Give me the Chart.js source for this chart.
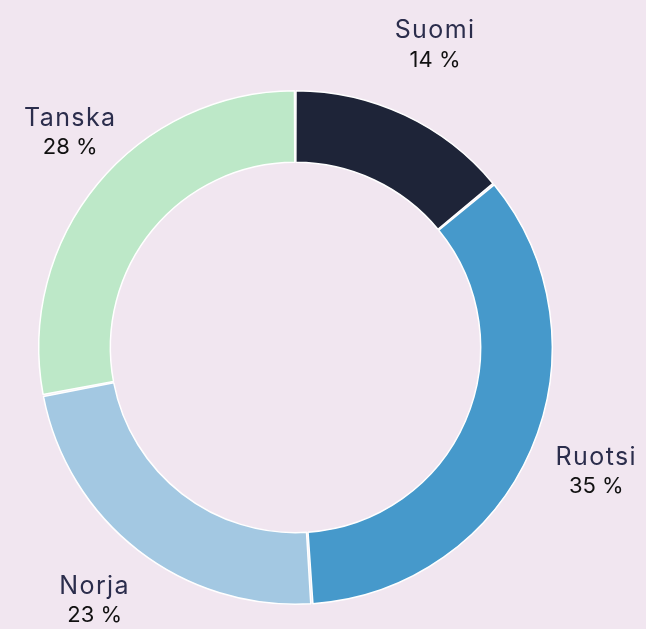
<!DOCTYPE html>
<html>
<head>
<meta charset="utf-8">
<script src="https://cdn.jsdelivr.net/npm/chart.js@4.4.1/dist/chart.umd.min.js"></script>
<style>
  html, body { margin: 0; padding: 0; background: #f1e6f0; }
  #wrap { width: 646px; height: 629px; }
</style>
</head>
<body>
<div id="wrap"><canvas id="shareChart" width="646" height="629"></canvas></div>
<script>
const countries = ["Suomi", "Ruotsi", "Norja", "Tanska"];
const shares = [14, 35, 23, 28];
const sliceColors = ["#1e2438", "#4699cb", "#a3c8e2", "#bde8c8"];

// labels outside the ring, at each slice's middle angle
const outsideLabels = {
  id: "outsideLabels",
  afterDatasetsDraw(chart) {
    const ctx = chart.ctx;
    const meta = chart.getDatasetMeta(0);
    ctx.save();
    ctx.textAlign = "center";
    ctx.textBaseline = "middle";
    meta.data.forEach((arc, i) => {
      const mid = (arc.startAngle + arc.endAngle) / 2;
      const dist = arc.outerRadius + 72;
      let x = arc.x + Math.cos(mid) * dist;
      const y = arc.y + Math.sin(mid) * dist - 6;

      ctx.font = "25px Inter";
      ctx.letterSpacing = "1.4px";
      const w = ctx.measureText(countries[i]).width;
      x = Math.max(x, 24 + w / 2); // keep it off the left edge

      ctx.fillStyle = "#2b2d4c";
      ctx.fillText(countries[i], x, y - 14);
      ctx.font = "22px Inter";
      ctx.letterSpacing = "0px";
      ctx.fillStyle = "#111111";
      ctx.fillText(shares[i] + " %", x, y + 15);
    });
    ctx.restore();
  },
};

new Chart(document.getElementById("shareChart"), {
  type: "doughnut",
  data: {
    labels: countries,
    datasets: [
      {
        data: shares,
        backgroundColor: sliceColors,
        borderColor: "#ffffff",
        borderWidth: 1.5,
        spacing: 2,
        hoverOffset: 0,
      },
    ],
  },
  options: {
    responsive: false,
    animation: false,
    cutout: "72%",
    layout: { padding: { top: 90, bottom: 24, left: 38, right: 93 } },
    plugins: {
      legend: { display: false },
      tooltip: { enabled: false },
    },
  },
  plugins: [outsideLabels],
});
</script>
</body>
</html>
